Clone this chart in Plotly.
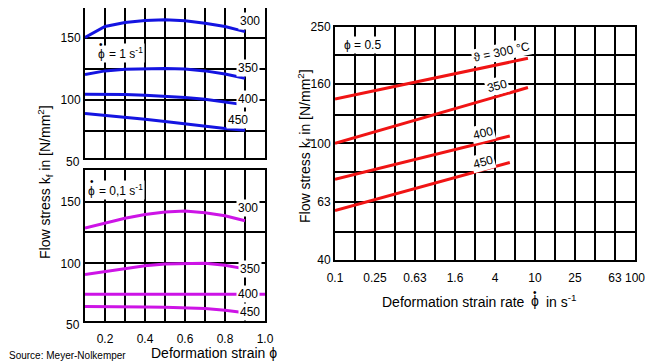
import plotly.graph_objects as go
import math

W, H = 653, 363
OFF = 8  # page body margin of the browser
FONT = "Liberation Sans, Arial, sans-serif"

# ---- data: left panels (flow stress vs deformation strain) ----
strain = [0.1, 0.2, 0.3, 0.4, 0.5, 0.6, 0.7, 0.8, 0.9]
# strain rate 1 s^-1 (blue)
kf1_300 = [150.5, 159.4, 162.6, 164.2, 164.8, 164.0, 162.0, 159.4, 155.3]
kf1_350 = [120.5, 123.5, 124.8, 125.3, 125.4, 125.0, 123.5, 121.0, 117.5]
kf1_400 = [104.5, 104.5, 104.3, 103.8, 103.0, 102.0, 100.5, 98.5, 96.0]
kf1_450 = [89.0, 87.6, 86.0, 84.3, 82.5, 80.5, 78.5, 76.8, 75.5]
# strain rate 0.1 s^-1 (magenta)
kf01_300 = [128.5, 132.5, 136.5, 139.5, 141.5, 142.3, 141.0, 138.5, 134.5]
kf01_350 = [91.0, 93.5, 96.0, 98.0, 99.5, 100.0, 100.0, 98.5, 95.5]
strain_400 = [0.1, 1.0]
kf01_400 = [75.0, 75.0]
kf01_450 = [65.0, 65.0, 64.8, 64.6, 64.3, 64.0, 63.3, 62.0, 60.0]

temps = ["300", "350", "400", "450"]

# ---- data: right panel (flow stress vs strain rate, strain 0.5) ----
rate_300 = [0.1, 8.5]
kf_300 = [141.6, 195.0]
rate_350 = [0.1, 8.5]
kf_350 = [100.0, 155.0]
rate_400 = [0.1, 5.6]
kf_400 = [75.4, 106.0]
rate_450 = [0.1, 5.6]
kf_450 = [59.0, 86.0]

# ticks
strain_grid = [0.2, 0.3, 0.4, 0.5, 0.6, 0.7, 0.8, 0.9, 1.0]
strain_labels = ["0.2", "", "0.4", "", "0.6", "", "0.8", "", "1.0"]
kf_left_grid = [75, 100, 125, 150]
kf_left_labels = ["", "100", "", "150"]
rate_grid = [10 ** (-1 + 0.2 * k) for k in range(16)]
rate_labels = ["0.1", "", "0.25", "", "0.63", "", "1.6", "", "4", "", "10", "", "25", "", "63", "100"]
kf_right_grid = [40, 50, 63, 80, 100, 125, 160, 200, 250]
kf_right_labels = ["40", "", "63", "", "100", "", "160", "", "250"]

BLUE = "rgb(20,20,225)"
MAG = "rgb(205,20,230)"
RED = "rgb(240,20,20)"
LW = 3

fig = go.Figure()
for ys in [kf1_300, kf1_350, kf1_400, kf1_450]:
    fig.add_trace(go.Scatter(x=strain, y=ys, mode="lines", line=dict(color=BLUE, width=LW),
                             xaxis="x", yaxis="y", showlegend=False, hoverinfo="skip"))
for xs, ys in [(strain, kf01_300), (strain, kf01_350), (strain_400, kf01_400), (strain, kf01_450)]:
    fig.add_trace(go.Scatter(x=xs, y=ys, mode="lines", line=dict(color=MAG, width=LW),
                             xaxis="x2", yaxis="y2", showlegend=False, hoverinfo="skip"))
for xs, ys in [(rate_300, kf_300), (rate_350, kf_350), (rate_400, kf_400), (rate_450, kf_450)]:
    fig.add_trace(go.Scatter(x=xs, y=ys, mode="lines", line=dict(color=RED, width=LW),
                             xaxis="x3", yaxis="y3", showlegend=False, hoverinfo="skip"))


def px(x):
    return min(max((x - OFF) / W, 0.0), 1.0)


def py(y):
    return min(max(1 - (y - OFF) / H, 0.0), 1.0)


GRID = dict(showgrid=True, gridcolor="black", gridwidth=1.6, zeroline=False,
            showline=True, linecolor="black", linewidth=2, mirror=True, ticks="",
            automargin=False,
            tickfont=dict(family=FONT, size=12, color="black"), fixedrange=True)

fig.update_layout(
    width=W, height=H, margin=dict(l=0, r=0, t=0, b=0, autoexpand=False),
    paper_bgcolor="white", plot_bgcolor="white",
    font=dict(family=FONT, size=12, color="black"),
    xaxis=dict(domain=[px(85), px(265)], range=[0.1, 1.0], tickvals=strain_grid,
               showticklabels=False, anchor="y", **GRID),
    yaxis=dict(domain=[py(158), py(8)], range=[53, 174.4], tickvals=kf_left_grid,
               ticktext=kf_left_labels, anchor="x", **GRID),
    xaxis2=dict(domain=[px(85), px(265)], range=[0.1, 1.0], tickvals=strain_grid,
                ticktext=strain_labels, ticklabelstandoff=6, anchor="y2", **GRID),
    yaxis2=dict(domain=[py(320.7), py(169.5)], range=[53.5, 176], tickvals=kf_left_grid,
                ticktext=kf_left_labels, anchor="x2", **GRID),
    xaxis3=dict(domain=[px(335), px(635)], type="log", range=[-1, 2], tickvals=rate_grid,
                ticktext=rate_labels, ticklabelstandoff=6, anchor="y3", **GRID),
    yaxis3=dict(domain=[py(260), py(26.7)], type="log", range=[math.log10(40), math.log10(250)],
                tickvals=kf_right_grid, ticktext=kf_right_labels, anchor="x3", **GRID),
)

ann = []


def lab(text, x, y, xref, yref, size=12, angle=0, xanchor="center", bg="white", pad=1):
    ann.append(dict(text=text, x=x, y=y, xref=xref, yref=yref, showarrow=False,
                    font=dict(family=FONT, size=size, color="black"), textangle=angle,
                    xanchor=xanchor, yanchor="middle", bgcolor=bg, borderpad=pad))


def ptext(text, x, y, size=12, xanchor="center", angle=0, bg="rgba(0,0,0,0)", pad=0):
    ann.append(dict(text=text, x=px(x), y=py(y), xref="paper", yref="paper", showarrow=False,
                    font=dict(family=FONT, size=size, color="black"), textangle=angle,
                    xanchor=xanchor, yanchor="middle", bgcolor=bg, borderpad=pad))


# top-left labels
lab(temps[0], 0.925, 163.5, "x", "y")
lab(temps[1], 0.915, 126, "x", "y")
lab(temps[2], 0.915, 101, "x", "y")
lab(temps[3], 0.865, 84, "x", "y")
ptext("ϕ", 101, 54, bg="white", pad=1)
ptext("= 1 s<sup>-1</sup>", 107, 53, xanchor="left", bg="white", pad=1)
ptext("•", 101, 44, size=10)
# bottom-left labels
lab(temps[0], 0.915, 145, "x2", "y2")
lab(temps[1], 0.925, 95.4, "x2", "y2")
lab(temps[2], 0.915, 75, "x2", "y2")
lab(temps[3], 0.925, 60.5, "x2", "y2")
ptext("ϕ", 91, 191, bg="white", pad=1)
ptext("= 0,1 s<sup>-1</sup>", 97, 190, xanchor="left", bg="white", pad=1)
ptext("•", 91.5, 181, size=10)
# right labels (log axes: positions in log10 units)
lab("ϑ = 300 °C", 0.665, 2.313, "x3", "y3", angle=-12)
lab(temps[1], 0.617, 2.196, "x3", "y3", angle=-15)
lab(temps[2], 0.483, 2.034, "x3", "y3", angle=-14)
lab(temps[3], 0.483, 1.937, "x3", "y3", angle=-15)
ptext("ϕ = 0.5", 342, 45, xanchor="left", bg="white", pad=1)

# "50" tick labels sitting just below the left panels
ptext("50", 81, 162, xanchor="right")
ptext("50", 81, 325, xanchor="right")

# axis titles
ptext("Flow stress k<sub>f</sub> in [N/mm<sup>2</sup>]", 45, 182, size=14, angle=-90)
ptext("Flow stress k<sub>f</sub> in [N/mm<sup>2</sup>]", 305, 146, size=14, angle=-90)
ptext("Deformation strain ϕ", 214, 353, size=14)
ptext("Deformation strain rate", 526, 302, size=14, xanchor="right")
ptext("ϕ", 534.5, 301, size=14)
ptext("•", 534.5, 292, size=10)
ptext("in s<sup>-1</sup>", 545, 301, size=14, xanchor="left")
ptext("Source: Meyer-Nolkemper", 8, 355, size=10, xanchor="left")

fig.update_layout(annotations=ann)
fig.write_html("out.html")
